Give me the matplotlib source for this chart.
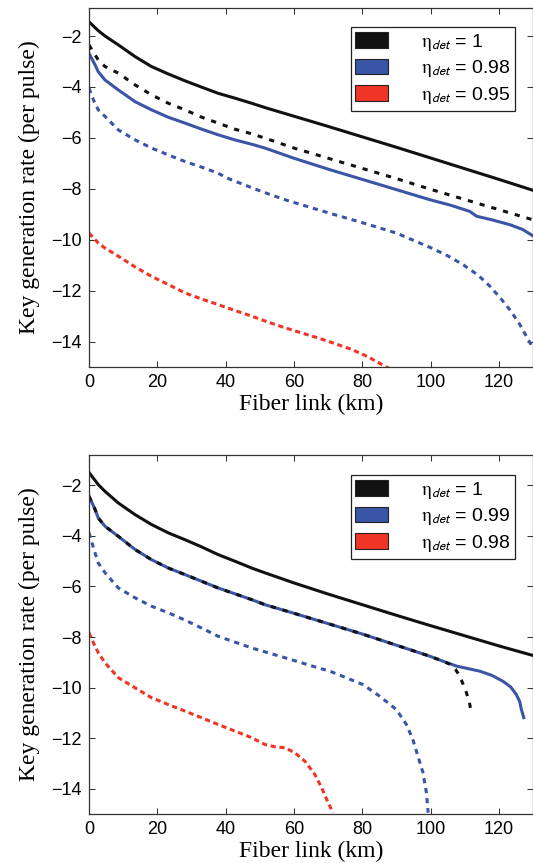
import matplotlib
matplotlib.use("Agg")
import matplotlib.pyplot as plt
from matplotlib.patches import Patch

plt.rcParams['font.family'] = ['Liberation Sans', 'DejaVu Sans']
plt.rcParams['mathtext.fontset'] = 'stix'

# ---------------- data: top panel ----------------
top_k1_x = [0, 2.7, 4.7, 8.6, 13.5, 18.3, 23.2, 28.1, 33, 37.8, 42.7, 47.6, 51.5, 60, 70, 80, 90, 100, 110, 120, 130]
top_k1_y = [-1.44, -1.79, -2.0, -2.35, -2.81, -3.2, -3.49, -3.76, -4.01, -4.25, -4.44, -4.64, -4.81,
            -5.15, -5.55, -5.96, -6.37, -6.79, -7.21, -7.63, -8.06]

top_k1d_x = [0, 2.7, 4.7, 8.6, 13.5, 18.3, 23.2, 28.1, 33, 37.8, 42.7, 47.6, 51.5, 60, 70, 80, 90, 100, 110, 120, 130]
top_k1d_y = [-2.35, -2.94, -3.2, -3.46, -3.92, -4.31, -4.64, -4.9, -5.19, -5.42, -5.66, -5.84, -6.01,
             -6.4, -6.8, -7.2, -7.6, -8.02, -8.42, -8.82, -9.22]

top_b_x = [0, 1.8, 2.7, 4.7, 8.6, 13.5, 18.3, 23.2, 28.1, 33, 37.8, 42.7, 47.6, 51.5, 60, 70.5, 85.2, 99.8,
           106, 111.5, 113.5, 118, 123.2, 127, 130]
top_b_y = [-2.68, -3.14, -3.4, -3.73, -4.12, -4.58, -4.9, -5.19, -5.42, -5.66, -5.88, -6.08, -6.25, -6.4,
           -6.8, -7.25, -7.84, -8.43, -8.65, -8.89, -9.08, -9.22, -9.41, -9.6, -9.85]

top_bd_x = [0, 1.3, 2.7, 4.7, 8.6, 13.5, 18.3, 23.2, 28.1, 33, 37.8, 40.8, 50, 57.4, 65, 72, 80, 90, 99.8,
            105, 109.5, 114, 117.4, 120.5, 123.2, 126, 129.1, 130]
top_bd_y = [-4.05, -4.51, -4.9, -5.16, -5.69, -6.08, -6.4, -6.67, -6.93, -7.15, -7.39, -7.6, -8.08, -8.43,
            -8.74, -9.02, -9.33, -9.74, -10.3, -10.63, -10.98, -11.4, -11.83, -12.3, -12.75, -13.3, -14.04, -14.3]

top_rd_x = [0, 2.7, 4.7, 8.6, 13.5, 18.3, 23.2, 28.1, 33, 37.8, 42.7, 47.6, 52.5, 57.4, 62.2, 67.1, 72,
            76.9, 81.7, 86.6, 88.1]
top_rd_y = [-9.74, -10.13, -10.33, -10.65, -11.07, -11.44, -11.76, -12.09, -12.33, -12.55, -12.78, -13.0,
            -13.24, -13.46, -13.66, -13.86, -14.08, -14.31, -14.6, -14.97, -15.07]

top_labels = ['1', '0.98', '0.95']

# ---------------- data: bottom panel ----------------
bot_k1_x = [0, 2.7, 4.7, 8.6, 13.5, 18.3, 23.2, 28.1, 32.9, 37.8, 42.7, 47.6, 51.5, 60, 70, 80, 90, 100,
            110, 120, 130]
bot_k1_y = [-1.49, -1.97, -2.24, -2.7, -3.16, -3.55, -3.88, -4.15, -4.43, -4.74, -5.0, -5.27, -5.46,
            -5.86, -6.3, -6.72, -7.14, -7.55, -7.95, -8.35, -8.73]

bot_b_x = [0, 1.8, 2.7, 4.7, 8.6, 13.5, 18.3, 23.2, 28.1, 32.9, 37.8, 42.7, 47.6, 51.5, 60, 70.5, 80, 92.4,
           99.8, 103.7, 107.6, 111, 114.4, 118, 121.2, 123.5, 125.1, 126.1, 126.6, 127.3]
bot_b_y = [-2.43, -2.96, -3.29, -3.62, -4.02, -4.54, -4.94, -5.27, -5.53, -5.79, -6.06, -6.29, -6.52, -6.72,
           -7.06, -7.49, -7.88, -8.43, -8.76, -8.96, -9.15, -9.25, -9.35, -9.52, -9.75, -9.98, -10.27,
           -10.55, -10.87, -11.19]

bot_k1d_x = [0, 1.8, 2.7, 4.7, 8.6, 13.5, 18.3, 23.2, 28.1, 32.9, 37.8, 42.7, 47.6, 51.5, 60, 70.5, 80,
             92.4, 99.8, 103.7, 105.7, 107.3, 108.6, 110.5, 111.4, 112]
bot_k1d_y = [-2.43, -2.96, -3.29, -3.62, -4.02, -4.54, -4.94, -5.27, -5.53, -5.79, -6.06, -6.29, -6.52,
             -6.72, -7.06, -7.49, -7.88, -8.43, -8.76, -8.96, -9.08, -9.28, -9.55, -10.2, -10.6, -11.06]

bot_bd_x = [0, 1.3, 2.7, 4.7, 8.6, 13.5, 18.3, 23.2, 28.1, 32.9, 37.8, 47.6, 57.4, 67.1, 70.5, 75.3, 80.2,
            85.1, 90, 92.9, 94.8, 96.3, 97.8, 98.8, 99.3]
bot_bd_y = [-3.88, -4.47, -5.07, -5.46, -6.06, -6.45, -6.78, -7.04, -7.33, -7.64, -7.97, -8.43, -8.82,
            -9.22, -9.35, -9.61, -9.88, -10.34, -10.87, -11.45, -12.05, -12.71, -13.37, -14.16, -14.95]

bot_rd_x = [0, 1.3, 2.7, 4.7, 8.6, 13.5, 18.3, 23.2, 28.1, 32.9, 37.8, 42.7, 47.6, 51.5, 54.4, 57.4, 60.3,
            63.2, 66.1, 68.1, 70, 71.5]
bot_rd_y = [-7.83, -8.23, -8.62, -9.02, -9.61, -10.01, -10.4, -10.67, -10.93, -11.19, -11.46, -11.72,
            -11.98, -12.25, -12.34, -12.38, -12.58, -12.91, -13.43, -13.96, -14.55, -14.95]

bot_labels = ['1', '0.99', '0.98']

x_ticks = [0, 20, 40, 60, 80, 100, 120]
y_ticks = [-14, -12, -10, -8, -6, -4, -2]

BLACK = '#111111'
BLUE = '#3B55A6'
RED = '#EE3526'
LW = 2.2
DASH_K = (0, (1.7, 2.3))
DASH_B = (0, (1.7, 1.6))
DASH_R = (0, (1.7, 1.2))

fig = plt.figure(figsize=(5.33, 8.68), dpi=100)
ax1 = fig.add_axes([89/533, 1-367/868, 444/533, 359/868])
ax2 = fig.add_axes([89/533, 1-814/868, 444/533, 359/868])


def style(ax, ylim_top, labels, legend_top):
    ax.set_xlim(0, 130)
    ax.set_ylim(-15, ylim_top)
    ax.set_xticks(x_ticks)
    ax.set_yticks(y_ticks)
    ax.tick_params(direction='in', top=True, right=True, length=4, width=0.75,
                   labelsize=13, pad=5, color='#333333')
    for s in ax.spines.values():
        s.set_linewidth(0.9)
        s.set_color('#333333')
    ax.set_xlabel('Fiber link (km)', family='Liberation Serif', fontsize=17, labelpad=2)
    ax.set_ylabel('Key generation rate (per pulse)', family='Liberation Serif', fontsize=17, labelpad=8)
    handles = [Patch(facecolor=c, edgecolor='#222222', linewidth=0.8) for c in (BLACK, BLUE, RED)]
    texts = [r'$\mathrm{\eta}_{\mathsf{det}}$ = ' + l for l in labels]
    leg = ax.legend(handles, texts, loc='upper right', bbox_to_anchor=(0.959, legend_top),
                    fontsize=14, frameon=True, fancybox=False, framealpha=1,
                    edgecolor='#222222', borderaxespad=0, handlelength=1.65,
                    handleheight=0.85, handletextpad=1.7, labelspacing=0.28, borderpad=0.25)
    leg.get_frame().set_linewidth(0.9)


ax1.plot(top_k1_x, top_k1_y, color=BLACK, lw=LW)
ax1.plot(top_k1d_x, top_k1d_y, color=BLACK, lw=LW, ls=DASH_K)
ax1.plot(top_b_x, top_b_y, color=BLUE, lw=LW)
ax1.plot(top_bd_x, top_bd_y, color=BLUE, lw=LW, ls=DASH_B)
ax1.plot(top_rd_x, top_rd_y, color=RED, lw=LW, ls=DASH_R)
style(ax1, -0.9, top_labels, 0.947)

ax2.plot(bot_k1_x, bot_k1_y, color=BLACK, lw=LW)
ax2.plot(bot_b_x, bot_b_y, color=BLUE, lw=LW)
ax2.plot(bot_k1d_x, bot_k1d_y, color=BLACK, lw=LW, ls=DASH_K)
ax2.plot(bot_bd_x, bot_bd_y, color=BLUE, lw=LW, ls=DASH_B)
ax2.plot(bot_rd_x, bot_rd_y, color=RED, lw=LW, ls=DASH_R)
style(ax2, -0.8, bot_labels, 0.944)

fig.savefig('out.png', dpi=100)
